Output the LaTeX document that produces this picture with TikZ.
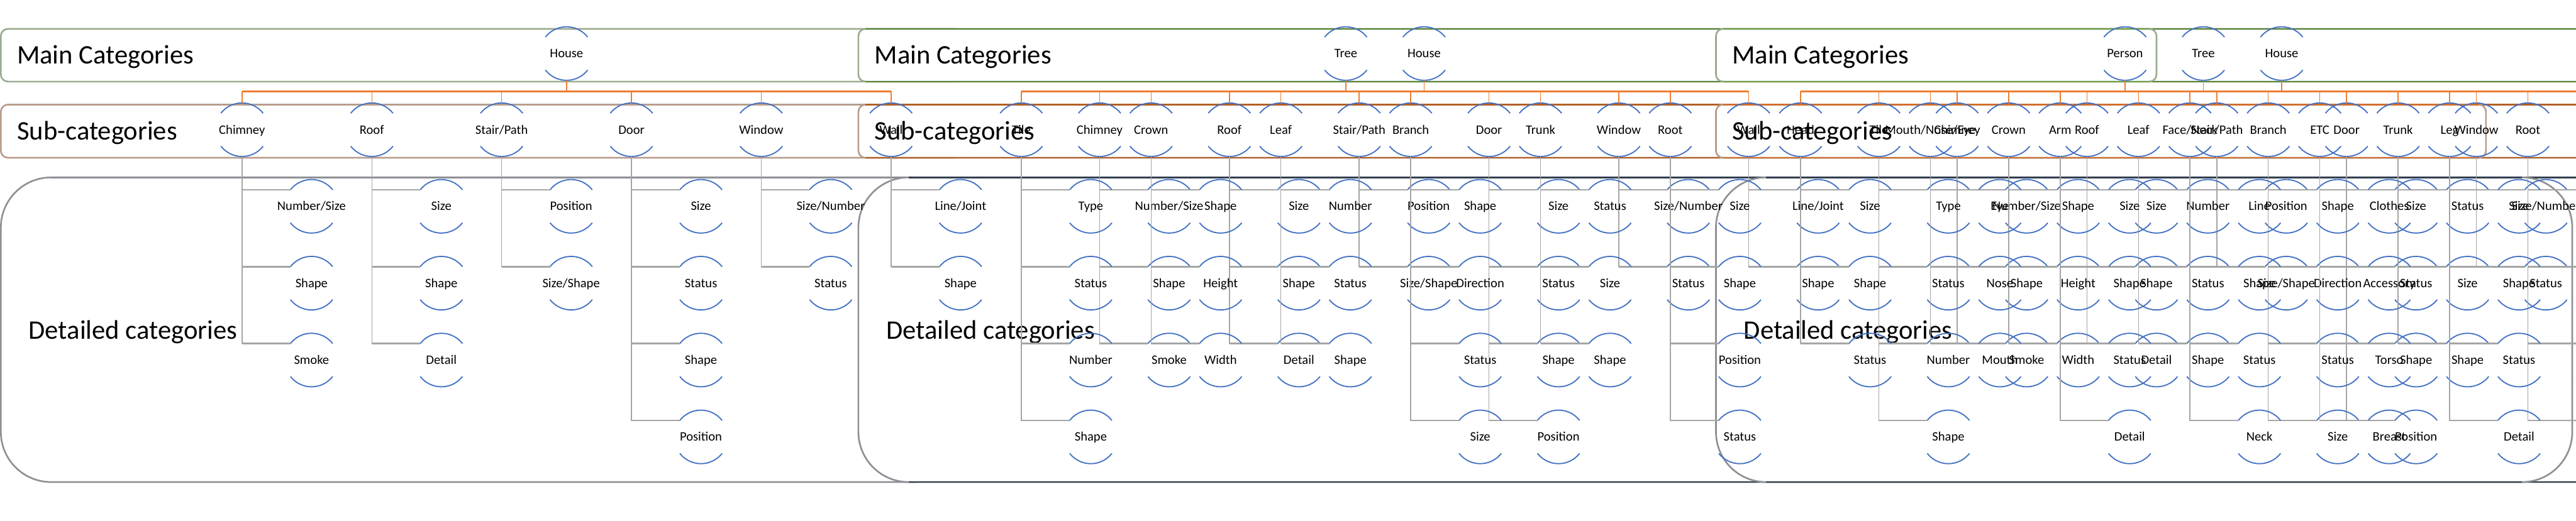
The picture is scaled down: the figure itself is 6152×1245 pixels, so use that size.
\documentclass[tikz,border=0pt]{standalone}
\usepackage{fontspec}
\setmainfont{Carlito}
\definecolor{arcblue}{HTML}{4472C4}
\definecolor{linkorange}{HTML}{ED7D31}
\definecolor{linkgray}{HTML}{A5A5A5}
\definecolor{paleGreen}{HTML}{9BAB8F}
\definecolor{paleBrown}{HTML}{B89D8C}
\definecolor{paleGray}{HTML}{8F9096}
\definecolor{darkGreen}{HTML}{548235}
\definecolor{midGreen}{HTML}{6A9B42}
\definecolor{darkBrown}{HTML}{B35F27}
\definecolor{midOrange}{HTML}{D06F2E}
\definecolor{navy}{HTML}{333F50}

\begin{document}
\begin{tikzpicture}[x=0.1mm, y=-0.1mm,
    catnode/.style={circle, minimum size=12.8mm, inner sep=0pt, outer sep=0pt,
      font=\fontsize{8.8}{10}\selectfont, text height=5.7pt, text depth=0pt},
    arcline/.style={arcblue, line width=0.28mm},
    mainlink/.style={linkorange, line width=0.22mm},
    barlink/.style={linkorange, line width=0.5mm},
    sublink/.style={linkgray, line width=0.22mm},
    branchlink/.style={linkgray, line width=0.42mm},
    boxline/.style={line width=0.4mm},
    bigtext/.style={anchor=base west, inner sep=0pt, font=\fontsize{18.2}{20}\selectfont},
]
  \useasboundingbox (0,0) rectangle (6152,1245);
  \clip (0,0) rectangle (6152,1245);

  % Three stacked panels (boxes first)
  \foreach \ox/\mainend/\subend/\detend/\mcol/\scol/\dcol in
      {0/2300/2300/2300/paleGreen/paleBrown/paleGray,
       2048/6400/6400/6400/darkGreen/darkBrown/navy,
       4096/5150/5937/6143/midGreen/midOrange/navy} {
    \draw[boxline, paleGreen, fill=white, rounded corners=1.7mm] (\ox+2,69) rectangle (\mainend,195);
    \draw[boxline, \mcol] (\ox+19,69) -- (\mainend-17,69) (\ox+19,195) -- (\mainend-17,195);
    \draw[boxline, paleBrown, fill=white, rounded corners=1.7mm] (\ox+2,250) rectangle (\subend,377);
    \draw[boxline, \scol] (\ox+19,250) -- (\subend-17,250) (\ox+19,377) -- (\subend-17,377);
    \draw[boxline, paleGray, fill=white, rounded corners=12mm] (\ox+2,424) rectangle (\detend,1152);
    \draw[boxline, \dcol] (\ox+122,424) -- (\detend-120,424) (\ox+122,1152) -- (\detend-120,1152);
    \node[bigtext] (main\ox) at (\ox+40,153) {Main Categories};
    \node[bigtext] (sub\ox) at (\ox+40,334) {Sub-categories};
    \node[bigtext] (det\ox) at (\ox+68,810) {Detailed categories};
  }

  % House (all three panels)
  \foreach \p/\ox in {1/0, 2/2048, 3/4096} {
    \node[catnode] (house\p) at (\ox+1353,128) {\makebox[0pt]{House}};
    \draw[arcline] (house\p.38) arc[start angle=38,end angle=142,radius=6.4mm]
                   (house\p.218) arc[start angle=218,end angle=322,radius=6.4mm];
    \path (house\p.south) ++(0,27) coordinate (housebar\p);
    \foreach \lab/\dets [count=\k from 0] in {Chimney/{Number/Size,Shape,Smoke},
        Roof/{Size,Shape,Detail}, {Stair/Path}/{Position,Size/Shape},
        Door/{Size,Status,Shape,Position}, Window/{Size/Number,Status},
        Wall/{Line/Joint,Shape}} {
      \node[catnode] (house\p-\k) at (\ox+578+310*\k,310) {\makebox[0pt]{\lab}};
      \draw[arcline] (house\p-\k.38) arc[start angle=38,end angle=142,radius=6.4mm]
                     (house\p-\k.218) arc[start angle=218,end angle=322,radius=6.4mm];
      \draw[mainlink] (house\p.south) -- (housebar\p) -| (house\p-\k.north);
      \draw[barlink] (housebar\p) -- (housebar\p -| house\p-\k);
      \foreach \d [count=\r from 0] in \dets {
        \node[catnode] (house\p-\k-\r) at (\ox+744+310*\k,493+183.7*\r) {\makebox[0pt]{\d}};
        \draw[arcline] (house\p-\k-\r.38) arc[start angle=38,end angle=142,radius=6.4mm]
                       (house\p-\k-\r.218) arc[start angle=218,end angle=322,radius=6.4mm];
        \draw[sublink] (house\p-\k.south) |- (house\p-\k-\r.142);
        \draw[branchlink] (house\p-\k.south |- house\p-\k-\r.142) -- (house\p-\k-\r.142);
      }
    }
  }

  % Tree (panels 2 and 3)
  \foreach \p/\ox in {2/2048, 3/4096} {
    \node[catnode] (tree\p) at (\ox+1166,128) {\makebox[0pt]{Tree}};
    \draw[arcline] (tree\p.38) arc[start angle=38,end angle=142,radius=6.4mm]
                   (tree\p.218) arc[start angle=218,end angle=322,radius=6.4mm];
    \path (tree\p.south) ++(0,27) coordinate (treebar\p);
    \foreach \lab/\dets [count=\k from 0] in {Tile/{Type,Status,Number,Shape},
        Crown/{Shape,Height,Width}, Leaf/{Number,Status,Shape},
        Branch/{Shape,Direction,Status,Size}, Trunk/{Status,Size,Shape},
        Root/{Size,Shape,Position,Status}} {
      \node[catnode] (tree\p-\k) at (\ox+391+310*\k,310) {\makebox[0pt]{\lab}};
      \draw[arcline] (tree\p-\k.38) arc[start angle=38,end angle=142,radius=6.4mm]
                     (tree\p-\k.218) arc[start angle=218,end angle=322,radius=6.4mm];
      \draw[mainlink] (tree\p.south) -- (treebar\p) -| (tree\p-\k.north);
      \draw[barlink] (treebar\p) -- (treebar\p -| tree\p-\k);
      \foreach \d [count=\r from 0] in \dets {
        \node[catnode] (tree\p-\k-\r) at (\ox+557+310*\k,493+183.7*\r) {\makebox[0pt]{\d}};
        \draw[arcline] (tree\p-\k-\r.38) arc[start angle=38,end angle=142,radius=6.4mm]
                       (tree\p-\k-\r.218) arc[start angle=218,end angle=322,radius=6.4mm];
        \draw[sublink] (tree\p-\k.south) |- (tree\p-\k-\r.142);
        \draw[branchlink] (tree\p-\k.south |- tree\p-\k-\r.142) -- (tree\p-\k-\r.142);
      }
    }
  }

  % Person (panel 3)
  \node[catnode] (person3) at (4096+979,128) {\makebox[0pt]{Person}};
  \draw[arcline] (person3.38) arc[start angle=38,end angle=142,radius=6.4mm]
                 (person3.218) arc[start angle=218,end angle=322,radius=6.4mm];
  \path (person3.south) ++(0,27) coordinate (personbar3);
  \foreach \lab/\dets [count=\k from 0] in {Head/{Size,Shape,Status},
      {Mouth/Nose/Eye}/{Eye,Nose,Mouth}, Arm/{Size,Shape,Status,Detail},
      {Face/Neck}/{Line,Shape,Status,Neck}, ETC/{Clothes,Accessory,Torso,Breast},
      Leg/{Size,Shape,Status,Detail}} {
    \node[catnode] (person3-\k) at (4096+204+310*\k,310) {\makebox[0pt]{\lab}};
    \draw[arcline] (person3-\k.38) arc[start angle=38,end angle=142,radius=6.4mm]
                   (person3-\k.218) arc[start angle=218,end angle=322,radius=6.4mm];
    \draw[mainlink] (person3.south) -- (personbar3) -| (person3-\k.north);
    \draw[barlink] (personbar3) -- (personbar3 -| person3-\k);
    \foreach \d [count=\r from 0] in \dets {
      \node[catnode] (person3-\k-\r) at (4096+370+310*\k,493+183.7*\r) {\makebox[0pt]{\d}};
      \draw[arcline] (person3-\k-\r.38) arc[start angle=38,end angle=142,radius=6.4mm]
                     (person3-\k-\r.218) arc[start angle=218,end angle=322,radius=6.4mm];
      \draw[sublink] (person3-\k.south) |- (person3-\k-\r.142);
      \draw[branchlink] (person3-\k.south |- person3-\k-\r.142) -- (person3-\k-\r.142);
    }
  }
\end{tikzpicture}
\end{document}
